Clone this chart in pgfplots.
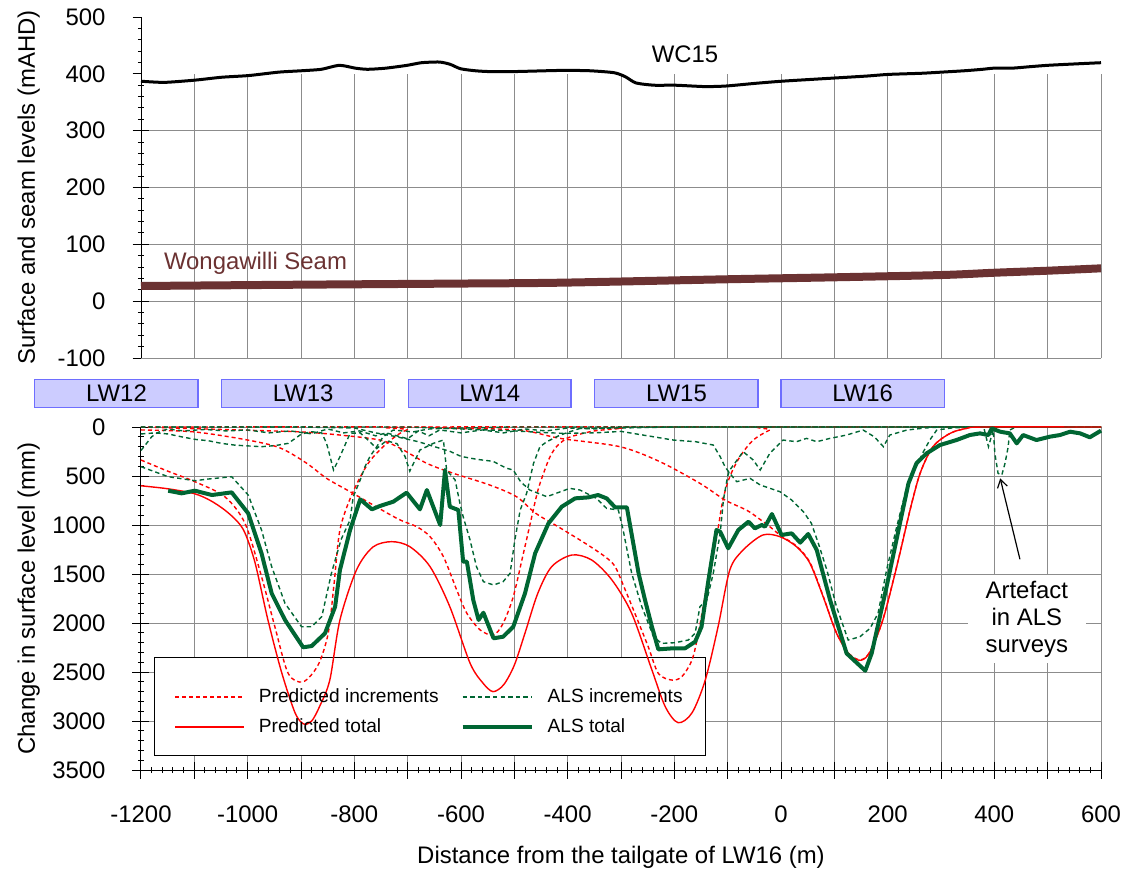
\documentclass[border=0pt]{standalone}
\usepackage{fontspec}
\setmainfont{Liberation Sans}
\usepackage{pgfplots}
\pgfplotsset{compat=1.18}
\usetikzlibrary{arrows.meta}

\definecolor{alsgreen}{RGB}{0,102,51}
\definecolor{seambrown}{RGB}{107,50,50}
\definecolor{gridgray}{RGB}{140,140,140}
\definecolor{lwfill}{RGB}{204,204,255}
\definecolor{lwdraw}{RGB}{110,110,255}

\tikzset{lwbox/.style={lwdraw, fill=lwfill, line width=0.7bp}}
\pgfplotsset{
  common/.style={
    scale only axis, width=480bp,
    xmin=-1200, xmax=600, enlargelimits=false,
    tick align=outside, major tick length=8.5bp, minor tick length=3.2bp,
    tick style={black, line width=0.5bp},
    grid=major, major grid style={gridgray, line width=0.5bp},
    tick label style={font=\fontsize{12}{14}\selectfont},
    label style={font=\fontsize{12}{14}\selectfont},
    /pgf/number format/assume math mode=true,
    /pgf/number format/1000 sep={},
    yticklabel={\pgfmathprintnumber{\tick}\hspace*{10bp}},
    xtick={-1200,-1100,...,600},
  },
  pinc/.style={red, line width=0.7bp, dash pattern=on 2bp off 1.5bp},
  ainc/.style={alsgreen, line width=0.7bp, dash pattern=on 2.2bp off 1.6bp},
}

\begin{document}
\begin{tikzpicture}
\useasboundingbox (-70.5bp,179bp) rectangle (492.5bp,-257bp);

% ---------- surface and seam ----------
\begin{axis}[common,
  at={(0,0)}, anchor=south west, height=170.5bp,
  ymin=-100, ymax=500, ytick distance=100, minor y tick num=4,
  axis lines=left,
  axis line style={-, black, line width=0.5bp},
  x axis line style={gridgray},
  xtick style={draw=none}, xticklabels={},
  clip=false,
  ylabel={Surface and seam levels (mAHD)},
  ylabel style={at={(axis description cs:-0.117,0.5)}, anchor=center},
]
\fill[white] (axis cs:-1198,400.5) rectangle (axis cs:603,505);

\addplot[seambrown, line width=4bp, smooth] coordinates {
(-1200,26.7) (-900,29) (-600,31) (-414,32.5) (-103,38.5) (101,42) (301,46) (399,50) (500,53.6) (600,57.8)};

\addplot[black, line width=1.5bp, smooth, tension=0.4] coordinates {
(-1200,387) (-1156,385) (-1098,389) (-1049,394) (-998,397) (-942,403) (-898,405.5) (-862,408)
(-828,415) (-798,410) (-775,408) (-741,410) (-701,415) (-674,419.6) (-641,420.8) (-621,417)
(-601,409) (-574,405.5) (-547,404) (-500,404) (-414,406) (-360,405.5) (-313,402) (-292,395)
(-272,384) (-238,380) (-198,380) (-143,377.6) (-103,378.6) (-48,383.3) (1,387) (60,390.4)
(101,392.7) (162,396.2) (201,399) (263,401) (301,403) (345,405.5) (378,408) (399,410)
(433,410) (467,412.6) (500,415) (548,417.3) (600,419.6)};

\node[font=\fontsize{12}{14}\selectfont] at (axis cs:-180,435) {WC15};
\node[anchor=west, text=seambrown, font=\fontsize{12}{14}\selectfont] at (axis cs:-1170,67) {Wongawilli Seam};
\end{axis}

% ---------- subsidence ----------
\begin{axis}[common,
  at={(0,-206bp)}, anchor=south west, height=171.5bp,
  ymin=0, ymax=3500, y dir=reverse, ytick distance=500, minor y tick num=4,
  minor x tick num=4,
  axis x line=bottom, axis y line=left,
  axis line style={-, black, line width=0.5bp},
  xticklabels={-1200,,-1000,,-800,,-600,,-400,,-200,,0,,200,,400,,600},
  xticklabel style={yshift=-10bp},
  clip=false,
  ylabel={Change in surface level (mm)},
  ylabel style={at={(axis description cs:-0.117,0.5)}, anchor=center},
  xlabel={Distance from the tailgate of LW16 (m)},
  xlabel style={at={(axis description cs:0.5,-0.2536)}, anchor=center},
  legend columns=2, legend cell align=left,
  legend style={at={(axis cs:-657,2908)}, anchor=center, draw=none, fill=none,
    font=\fontsize{9.6}{11.5}\selectfont, row sep=2.5bp,
    /tikz/every odd column/.append style={column sep=5bp},
    /tikz/every even column/.append style={column sep=9bp}},
  legend image code/.code={\draw[#1] (0bp,0bp) -- (34.5bp,0bp);},
]
% legend frame (behind the curves)
\draw[black, line width=0.5bp, fill=white] (axis cs:-1174,2357) rectangle (axis cs:-141,3347);

% longwall panels
\draw[lwbox] (axis cs:-1400,-487) rectangle (axis cs:-1093,-201);
\draw[lwbox] (axis cs:-1049,-487) rectangle (axis cs:-743,-201);
\draw[lwbox] (axis cs:-699,-487) rectangle (axis cs:-394,-201);
\draw[lwbox] (axis cs:-350,-487) rectangle (axis cs:-43,-201);
\draw[lwbox] (axis cs:0,-487) rectangle (axis cs:306,-201);
\node[font=\fontsize{12}{14}\selectfont] at (axis cs:-1246,-344) {LW12};
\node[font=\fontsize{12}{14}\selectfont] at (axis cs:-896,-344) {LW13};
\node[font=\fontsize{12}{14}\selectfont] at (axis cs:-546,-344) {LW14};
\node[font=\fontsize{12}{14}\selectfont] at (axis cs:-196,-344) {LW15};
\node[font=\fontsize{12}{14}\selectfont] at (axis cs:153,-344) {LW16};

% predicted increments
\addplot[pinc, smooth, forget plot] coordinates {
(-1200,337) (-1150,450) (-1099,558) (-1043,711) (-1005,983) (-974,1527) (-949,2038) (-924,2514)
(-896,2600) (-868,2429) (-849,2105) (-838,1600) (-827,1051) (-805,694) (-774,371) (-739,167)
(-702,31) (-650,0) (600,0)};
\addplot[pinc, smooth, forget plot] coordinates {
(-1200,30) (-1100,50) (-1000,133) (-939,214) (-889,371) (-852,524) (-808,660) (-721,930)
(-683,1017) (-658,1119) (-633,1323) (-608,1663) (-589,1901) (-564,2071) (-539,2122) (-521,2003)
(-502,1731) (-483,1289) (-470,980) (-456,650) (-443,439) (-433,303) (-421,201) (-402,116)
(-383,82) (-350,40) (-300,15) (-250,0) (600,0)};
\addplot[pinc, smooth, forget plot] coordinates {
(-1200,0) (-1014,31) (-900,50) (-827,82) (-752,133) (-714,217) (-664,371) (-614,473) (-546,592)
(-496,711) (-460,880) (-418,1017) (-367,1187) (-330,1323) (-311,1425) (-292,1663) (-274,1901)
(-249,2241) (-230,2514) (-205,2582) (-186,2548) (-167,2378) (-155,2105) (-135,1500) (-120,1100)
(-109,745) (-96,507) (-77,303) (-52,133) (-21,31) (0,0) (600,0)};
\addplot[pinc, smooth, forget plot] coordinates {
(-1200,0) (-700,0) (-600,15) (-489,31) (-414,116) (-302,201) (-227,354) (-152,575) (-105,745)
(-64,850) (-40,940) (-21,1017) (-2,1102) (29,1215) (54,1380) (79,1725) (104,2100)
(129,2320) (150,2375) (167,2290) (191,1965) (217,1420) (242,845) (261,470) (285,200) (317,65)
(348,14) (380,0) (600,0)};

% ALS increments
\addplot[ainc, forget plot] coordinates {
(-1200,405) (-1149,507) (-1099,548) (-1074,531) (-1030,507) (-999,694) (-974,1051) (-955,1425)
(-930,1799) (-899,2038) (-880,2038) (-861,1935) (-843,1493) (-825,1150) (-808,949) (-802,711)
(-789,541) (-780,405) (-771,303) (-758,201) (-746,99) (-727,31) (-690,50) (-660,20) (-600,10)
(-500,0) (600,0)};
\addplot[ainc, forget plot] coordinates {
(-1200,240) (-1190,170) (-1180,100) (-1170,60) (-1150,20) (-1120,40) (-1080,25) (-1040,40)
(-1000,30) (-960,60) (-920,40) (-880,70) (-850,20) (-820,60) (-790,40) (-760,90) (-740,60)
(-700,120) (-680,40) (-660,90) (-640,30) (-600,60) (-560,30) (-520,60) (-480,20) (-440,40)
(-400,10) (-350,20) (-300,0) (600,0)};
\addplot[ainc, forget plot] coordinates {
(-1200,71) (-1174,60) (-1149,71) (-1124,100) (-1099,126) (-1074,140) (-1049,167) (-1024,185)
(-999,193) (-974,201) (-949,190) (-924,167) (-899,71) (-880,48) (-861,61) (-852,167) (-839,439)
(-827,303) (-808,65) (-789,60) (-771,150) (-758,220) (-740,140) (-720,170) (-705,300) (-696,450)
(-677,235) (-652,167) (-633,133) (-627,439) (-611,541) (-602,779) (-596,915) (-583,1153)
(-571,1425) (-558,1578) (-539,1612) (-521,1578) (-508,1493) (-499,1153) (-489,847) (-477,677)
(-464,371) (-452,201) (-439,150) (-414,82) (-377,14) (-300,10) (-200,0) (600,0)};
\addplot[ainc, forget plot] coordinates {
(-1200,0) (-900,0) (-800,10) (-760,60) (-720,100) (-680,150) (-650,200) (-620,250) (-600,300)
(-570,330) (-540,350) (-515,420) (-502,439) (-488,560) (-471,643) (-439,711) (-396,626)
(-377,643) (-346,728) (-327,830) (-305,847) (-296,1051) (-280,1493) (-261,1833) (-239,2140)
(-224,2208) (-199,2201) (-174,2174) (-161,2105) (-152,1833) (-139,1765) (-127,1493) (-114,1085)
(-108,745) (-100,500) (-96,439) (-71,252) (-52,337) (-39,439) (-21,269) (4,133) (29,150)
(48,116) (67,150) (92,116) (123,82) (154,31) (175,100) (192,201) (204,82) (236,31) (270,10)
(300,0) (600,0)};
\addplot[ainc, forget plot] coordinates {
(-1200,0) (-700,0) (-600,20) (-500,40) (-450,55) (-408,65) (-350,60) (-300,45) (-250,90)
(-202,133) (-160,150) (-127,184) (-114,303) (-105,405) (-96,473) (-83,558) (-58,524) (-39,592)
(-2,660) (20,745) (42,864) (57,983) (70,1187) (86,1459) (104,1833) (126,2174) (148,2140)
(167,2055) (182,1901) (198,1459) (217,1017) (236,609) (254,400) (267,252) (279,133) (292,31)
(320,10) (360,0) (380,0) (389,201) (398,31) (401,269) (407,473) (414,490) (420,371) (426,201)
(429,31) (440,0) (600,0)};

% totals
\addplot[red, line width=0.7bp, smooth, forget plot] coordinates {
(-1200,600) (-1150,630) (-1100,680) (-1070,750) (-1043,847) (-1020,960) (-1005,1082) (-986,1388)
(-962,1969) (-936,2510) (-911,2918) (-895,3030) (-880,3000) (-865,2850) (-846,2582) (-827,1969)
(-796,1459) (-765,1224) (-730,1170) (-696,1221) (-658,1425) (-621,1833) (-583,2410) (-559,2612)
(-540,2700) (-520,2630) (-500,2430) (-480,2103) (-456,1697) (-430,1425) (-392,1306) (-355,1357)
(-317,1561) (-280,1901) (-242,2480) (-217,2854) (-193,3017) (-167,2918) (-142,2582) (-118,2038)
(-96,1459) (-71,1255) (-34,1102) (-2,1119) (29,1221) (54,1388) (79,1731) (104,2103) (129,2327)
(150,2380) (167,2293) (191,1969) (217,1425) (242,847) (261,470) (285,201) (317,65) (348,14)
(380,0) (600,0)};
\addplot[alsgreen, line width=2bp, line join=round, forget plot] coordinates {
(-1149,650) (-1124,677) (-1099,650) (-1067,694) (-1030,667) (-999,881) (-974,1289) (-955,1697)
(-930,1969) (-896,2248) (-880,2235) (-855,2105) (-836,1833) (-827,1459) (-808,1051) (-789,738)
(-767,840) (-752,806) (-727,762) (-702,670) (-677,840) (-664,643) (-639,1000) (-630,439)
(-621,813) (-605,847) (-596,1374) (-589,1374) (-577,1765) (-567,1969) (-558,1895) (-539,2156)
(-521,2140) (-502,2038) (-480,1697) (-461,1289) (-436,983) (-411,813) (-386,728) (-361,718)
(-343,694) (-327,728) (-311,820) (-289,820) (-267,1493) (-255,1765) (-242,2038) (-230,2269)
(-205,2259) (-180,2259) (-161,2191) (-149,2038) (-136,1561) (-121,1051) (-114,1068) (-99,1238)
(-80,1051) (-61,966) (-49,1034) (-36,1000) (-30,1017) (-17,888) (1,1102) (20,1085) (36,1180)
(51,1092) (67,1255) (92,1765) (123,2310) (158,2487) (170,2310) (198,1629) (223,983) (239,575)
(254,370) (273,269) (298,184) (329,133) (354,82) (373,65) (389,82) (395,14) (411,48) (429,65)
(442,167) (454,82) (479,133) (504,99) (523,82) (542,48) (561,65) (579,105) (600,37)};

\addlegendimage{pinc}
\addlegendentry{Predicted increments}
\addlegendimage{ainc}
\addlegendentry{ALS increments}
\addlegendimage{red, line width=0.7bp}
\addlegendentry{Predicted total}
\addlegendimage{alsgreen, line width=2bp}
\addlegendentry{ALS total}

% annotation
\node[fill=white, align=center, inner xsep=9bp, inner ysep=3bp,
  font=\fontsize{12}{13.5}\selectfont] at (axis cs:461,1959) {Artefact\\in ALS\\surveys};
\draw[black, line width=0.6bp, -{Straight Barb[length=4bp,width=5bp]}] (axis cs:448,1350) -- (axis cs:411,524);
\end{axis}
\end{tikzpicture}
\end{document}
